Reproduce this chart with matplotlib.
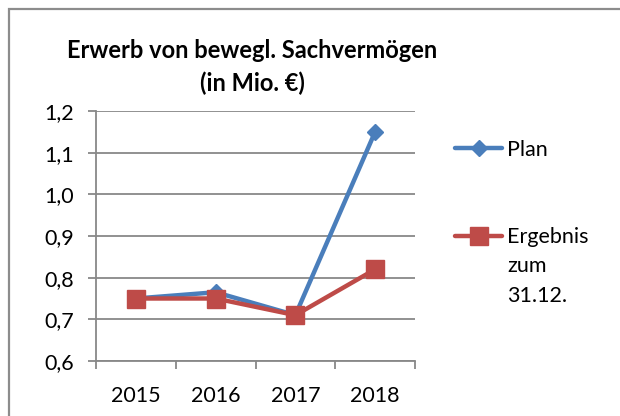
import matplotlib
matplotlib.use("Agg")
import matplotlib.pyplot as plt
from matplotlib.patches import Rectangle
from matplotlib.ticker import FuncFormatter, FixedLocator

plt.rcParams['font.family'] = ['Lato', 'DejaVu Sans']

# data
years = ['2015', '2016', '2017', '2018']
plan = [0.75, 0.765, 0.71, 1.15]
ergebnis = [0.75, 0.75, 0.71, 0.82]

blue = '#4A7EBB'
red = '#BE4B48'
grid = '#888888'
fs = 15.5

fig = plt.figure(figsize=(6.2, 4.16), dpi=100)
ax = fig.add_axes([96/620, 1-361/416, 319/620, 250/416])

xs = [i + 0.5 for i in range(len(years))]
ax.plot(xs, plan, color=blue, lw=3.2, marker='D', ms=8.5, label='Plan',
        solid_capstyle='round', solid_joinstyle='round')
ax.plot(xs, ergebnis, color=red, lw=3.2, marker='s', ms=13.5, label='Ergebnis',
        solid_capstyle='round', solid_joinstyle='round')

ax.set_xlim(0, len(years))
ax.set_ylim(0.6, 1.2)
ax.set_yticks([0.6, 0.7, 0.8, 0.9, 1.0, 1.1, 1.2])
ax.yaxis.set_major_formatter(FuncFormatter(lambda v, p: f'{v:.1f}'.replace('.', ',')))
ax.grid(axis='y', color=grid, lw=1.3)
ax.set_axisbelow(True)

ax.xaxis.set_major_locator(FixedLocator(range(len(years) + 1)))
ax.xaxis.set_minor_locator(FixedLocator(xs))
ax.set_xticklabels([], minor=False)
ax.set_xticklabels(years, minor=True)
ax.tick_params(axis='x', which='major', length=6, width=1.3, color=grid, direction='out')
ax.tick_params(axis='x', which='minor', length=0, pad=18, labelsize=fs)
ax.tick_params(axis='y', length=6, width=1.3, color=grid, pad=10, labelsize=fs)

for s in ['top', 'right']:
    ax.spines[s].set_visible(False)
for s in ['left', 'bottom']:
    ax.spines[s].set_color(grid)
    ax.spines[s].set_linewidth(1.3)

fig.text(252/620, 1-67/416, 'Erwerb von bewegl. Sachvermögen\n(in Mio. €)',
         ha='center', va='center', fontsize=17, fontweight='bold', linespacing=1.45)

leg = ax.legend(loc='upper left', bbox_to_anchor=(455/620, 1-140/416),
                bbox_transform=fig.transFigure, frameon=False,
                fontsize=fs, handlelength=2.2, handletextpad=0.22, labelspacing=3.13,
                borderpad=0, borderaxespad=0)
ax.annotate('zum\n31.12.', xy=(0, 0), xycoords=leg.get_texts()[1],
            xytext=(0, -6), textcoords='offset points', ha='left', va='top',
            fontsize=fs, linespacing=1.62, zorder=10, annotation_clip=False)

# outer chart frame
fig.patches.append(Rectangle((9/620, -0.1), 1.0, 1.1 - 9/416, transform=fig.transFigure,
                             fill=False, ec='#8c8c8c', lw=1.6))

fig.savefig('out.png', dpi=100)
